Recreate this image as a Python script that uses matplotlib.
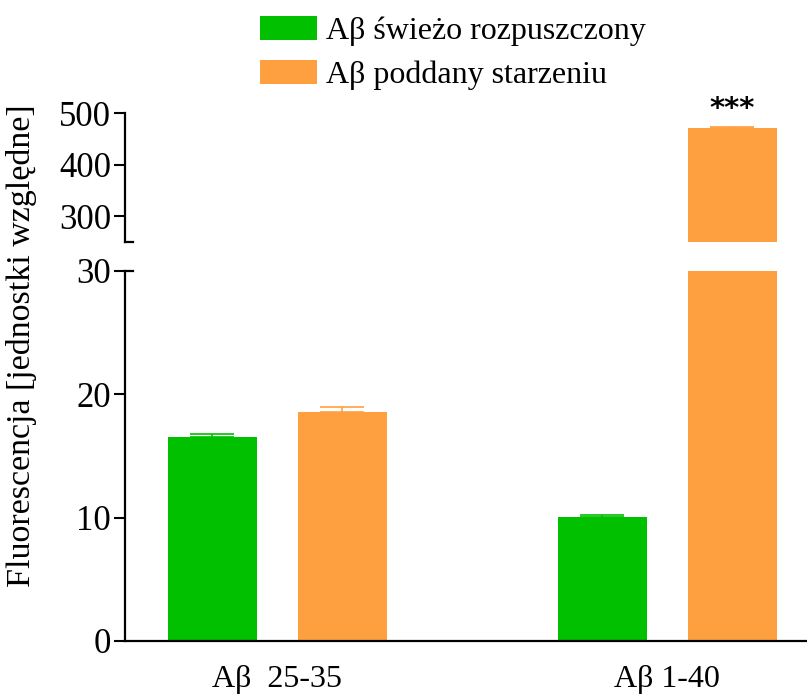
import numpy as np
import matplotlib.pyplot as plt

plt.rcParams['font.family'] = ['Liberation Serif', 'DejaVu Serif']

groups = ['Aβ  25-35', 'Aβ 1-40']
series = ['Aβ świeżo rozpuszczony', 'Aβ poddany starzeniu']
fresh = [16.5, 10.05]
fresh_err = [0.3, 0.15]
aged = [18.6, 471]
aged_err = [0.35, 2]
colors = ['#00C000', '#FFA040']

fig = plt.figure(figsize=(8.07, 6.95), dpi=100)
ax_lo = fig.add_axes([0.1549, 0.0777, 0.8451, 0.5324])
ax_hi = fig.add_axes([0.1549, 0.6518, 0.8451, 0.1856])

x = np.arange(len(groups))
w = 0.228
off = 0.1667
for ax in (ax_lo, ax_hi):
    for vals, errs, c, sgn, lab in ((fresh, fresh_err, colors[0], -1, series[0]),
                                    (aged, aged_err, colors[1], 1, series[1])):
        ax.bar(x + sgn * off, vals, w, color=c, label=lab)
        ax.errorbar(x + sgn * off, vals, yerr=[np.zeros(len(errs)), errs], fmt='none',
                    ecolor=c, elinewidth=1.2, capsize=16, capthick=1.2)
    ax.set_xlim(-0.391, 1.358)
    for s in ('top', 'right'):
        ax.spines[s].set_visible(False)
    ax.spines['left'].set_linewidth(1.6)
    ax.spines['bottom'].set_linewidth(1.6)
    ax.tick_params(axis='y', length=8, width=1.5, labelsize=25, pad=2)

ax_lo.set_ylim(0, 30)
ax_lo.set_yticks([0, 10, 20, 30])
ax_lo.set_xticks(x)
ax_lo.set_xticklabels(groups, fontsize=23)
ax_lo.tick_params(axis='x', length=0, pad=17)

ax_hi.set_ylim(250, 500)
ax_hi.set_yticks([300, 400, 500])
ax_hi.spines['bottom'].set_visible(False)
ax_hi.set_xticks([])

# break markers
ax_hi.plot([0, 0.012], [0, 0], color='black', lw=1.6, transform=ax_hi.transAxes, clip_on=False)
ax_lo.plot([0, 0.012], [1, 1], color='black', lw=1.6, transform=ax_lo.transAxes, clip_on=False)

ax_hi.text(x[1] + off, aged[1] + 10, '***', ha='center', va='bottom', fontsize=21,
           family='DejaVu Sans', fontweight='bold')

fig.text(0.027, 0.503, 'Fluorescencja [jednostki względne]', rotation=90,
         ha='center', va='center', fontsize=24.5)

handles, labels = ax_lo.get_legend_handles_labels()
fig.legend(handles, labels, loc='upper left', bbox_to_anchor=(0.291, 1.014), frameon=False,
           fontsize=23, handlelength=1.78, handleheight=0.78, handletextpad=0.28, labelspacing=0.45,
           borderpad=0.3)

fig.savefig('out.png', dpi=100)
